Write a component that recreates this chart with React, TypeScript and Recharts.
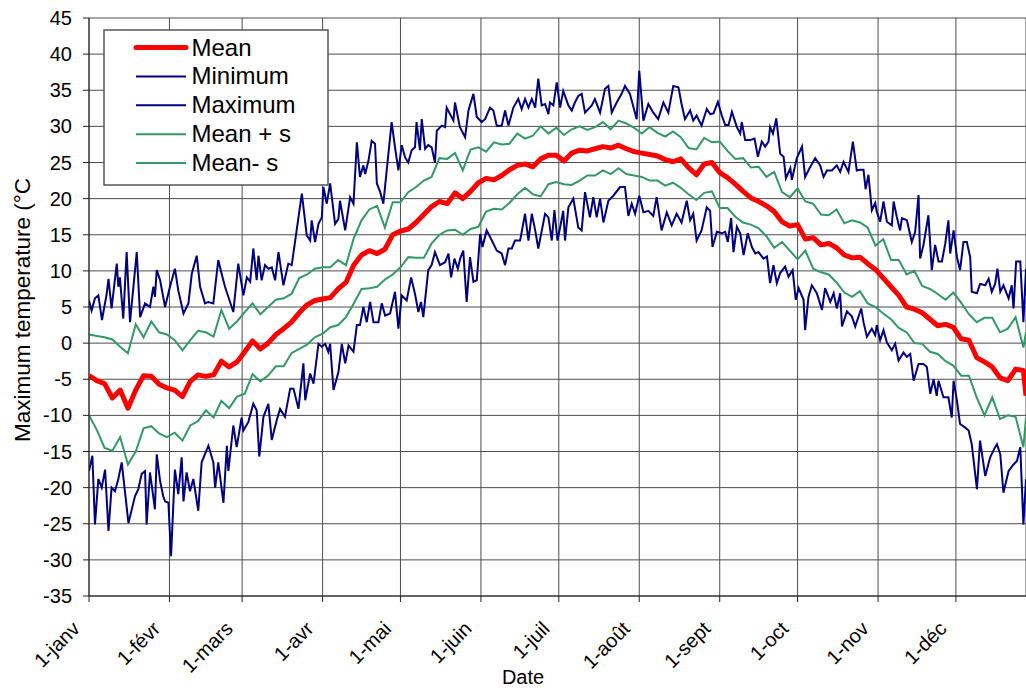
import { LineChart, Line, XAxis, YAxis, CartesianGrid } from "recharts";

// day-of-year positions of the month labels (1 Jan = 0)
const monthDays = [0, 31, 59, 90, 120, 151, 181, 212, 243, 273, 304, 334];
const monthLabels = ["1-janv", "1-févr", "1-mars", "1-avr", "1-mai", "1-juin", "1-juil", "1-août", "1-sept", "1-oct", "1-nov", "1-déc"];
const tempTicks = [-35, -30, -25, -20, -15, -10, -5, 0, 5, 10, 15, 20, 25, 30, 35, 40, 45];

// mean and mean +/- s, read every 3 days (last point = day 361)
const gridDays = [...Array.from({ length: 121 }, (_, i) => i * 3), 361];

const meanTemps = [
  -4.5, -5.2, -5.6, -7.6, -6.5, -9.0, -6.5, -4.5, -4.6, -5.7,
  -6.2, -6.5, -7.4, -5.3, -4.4, -4.6, -4.4, -2.5, -3.3, -2.6,
  -1.2, 0.3, -0.8, 0.0, 1.2, 2.0, 2.9, 4.2, 5.3, 5.9,
  6.1, 6.3, 7.5, 8.4, 10.8, 12.2, 12.8, 12.4, 13.0, 15.0,
  15.5, 15.8, 16.7, 17.8, 18.9, 19.6, 19.3, 20.8, 20.0, 21.0,
  22.2, 22.8, 22.6, 23.2, 24.0, 24.6, 24.8, 24.4, 25.5, 26.0,
  26.0, 25.2, 26.3, 26.7, 26.6, 26.9, 27.2, 27.0, 27.4, 26.9,
  26.5, 26.3, 26.1, 25.9, 25.4, 25.1, 25.5, 24.3, 23.3, 24.8,
  25.0, 23.6, 22.9, 22.0, 21.0, 20.1, 19.6, 19.0, 18.2, 16.8,
  16.2, 16.4, 14.4, 14.6, 13.6, 13.8, 13.2, 12.2, 11.8, 11.9,
  11.0, 10.2, 9.0, 7.8, 6.6, 5.0, 4.7, 4.2, 3.3, 2.4,
  2.6, 2.2, 0.6, 0.4, -2.0, -2.6, -3.3, -4.8, -5.2, -3.6,
  -3.8, -7.3,
];

const plusTemps = [
  1.2, 1.0, 0.8, 0.5, -0.5, -1.4, 2.6, 0.8, 3.0, 1.5,
  1.2, 0.4, -1.0, 0.4, 1.7, 1.5, 0.9, 4.6, 2.0, 3.0,
  4.3, 5.5, 4.0, 5.0, 6.0, 6.2, 6.8, 9.0, 9.5, 10.3,
  10.5, 10.5, 11.5, 10.8, 14.5, 17.0, 18.5, 19.0, 16.0, 19.5,
  19.5, 20.9, 21.6, 22.5, 23.0, 25.6, 25.5, 26.3, 23.9, 26.8,
  27.1, 26.5, 27.8, 27.5, 27.6, 29.0, 28.3, 28.7, 30.0, 29.0,
  29.8, 28.8, 29.6, 30.0, 29.5, 29.9, 30.6, 29.6, 30.8, 30.4,
  29.8, 29.0, 29.9, 29.1, 28.6, 29.3, 28.5, 27.0, 26.8, 28.4,
  27.8, 27.9, 26.6, 25.5, 25.6, 24.3, 24.4, 23.0, 23.7, 20.9,
  20.2, 21.4, 19.6, 19.3, 17.8, 17.7, 18.5, 16.6, 17.0, 16.7,
  16.0, 13.5, 14.4, 11.5, 11.5, 9.5, 10.0, 7.9, 7.5, 6.8,
  6.0, 7.0, 5.6, 4.0, 2.9, 3.5, 3.5, 1.5, 2.0, 3.6,
  -0.6, 1.5,
];

const minusTemps = [
  -10.0, -12.0, -14.5, -14.9, -13.0, -16.8, -15.0, -11.8, -11.5, -12.5,
  -13.0, -12.4, -13.5, -11.4, -10.8, -9.3, -10.3, -8.0, -9.0, -7.4,
  -7.0, -4.3, -5.3, -4.5, -3.2, -3.2, -1.4, -0.8, -0.2, 0.8,
  1.3, 2.2, 2.5, 3.6, 5.5, 7.5, 7.6, 7.8, 8.8, 9.5,
  10.5, 11.9, 11.8, 11.8, 13.8, 15.0, 15.6, 15.7, 15.0, 15.8,
  16.1, 18.2, 18.6, 18.5, 19.4, 20.6, 21.5, 20.6, 20.3, 22.0,
  22.3, 22.0, 21.9, 22.5, 23.2, 23.2, 23.9, 23.4, 24.2, 23.4,
  23.2, 23.0, 22.5, 22.5, 21.8, 22.2, 21.5, 20.6, 19.8, 20.8,
  21.0, 18.7, 18.7, 17.5, 16.7, 16.4, 15.9, 14.8, 13.2, 14.0,
  12.8, 11.6, 12.8, 10.3, 9.8, 9.5, 8.4, 7.0, 6.4, 7.2,
  5.5, 5.0, 4.1, 3.3, 2.1, 1.5, 0.0, -0.1, -1.2, -1.5,
  -2.5, -3.1, -4.5, -4.5, -7.5, -10.0, -7.5, -10.5, -10.0, -10.2,
  -14.4, -10.3,
];

// daily maximum: turning points
const maxDays = [
  0, 1, 2.3, 3.6, 5, 6.8, 7.5, 8.7, 10.7, 11.3, 11.9, 13.2, 14.5, 15.8, 18.4, 19.7, 21.6, 23.5, 24.8, 25.4,
  26.1, 27.4, 29.3, 31.2, 33.1, 34.4, 36.4, 38.3, 39.6, 41.5, 42.8, 44.7, 46, 47.9, 49.8, 51.1, 52.4, 55.6, 57.5, 59.5,
  60.8, 62.1, 63.3, 64.6, 65.3, 66.5, 67.8, 69.1, 70.4, 71.7, 73, 74.9, 76.8, 78.1, 80, 82, 83.9, 85.2, 85.8, 87.1,
  88.4, 89.7, 90.3, 91.6, 92.9, 94.8, 96.1, 96.7, 98.7, 100.6, 101.9, 103.2, 104.4, 105.7, 106.4, 107.7, 108.9, 110.2, 110.9, 112.2,
  113.4, 114.7, 116.6, 117.9, 119.2, 120.5, 121.8, 123, 124.3, 125.6, 126.2, 127.5, 128.2, 129.5, 130.7, 132, 133.3, 134, 135.9, 137.2,
  137.8, 139.1, 140.4, 141, 142.9, 144.9, 146.2, 148.1, 149.4, 151.3, 152.6, 154.5, 155.8, 157.1, 159, 160.3, 161.6, 163.5, 165.4, 166.7,
  168, 169.3, 170.6, 171.9, 173.1, 174.4, 175.7, 177, 177.6, 178.9, 180.2, 181.5, 182.7, 184.7, 186, 187.2, 188.5, 189.8, 191.1, 193.7,
  194.9, 196.9, 198.8, 200.1, 201.4, 203.3, 205.2, 206.5, 208.4, 211, 212, 213.6, 215.5, 217.4, 219.3, 221.3, 223.2, 225.1, 227.1, 228.3,
  229.6, 231.6, 232.8, 234.1, 236, 238, 239.3, 240.6, 242.3, 243.8, 245.1, 246.4, 247.7, 249.6, 250.9, 251.5, 252.8, 254.7, 256.4, 257.7,
  259.2, 260.5, 261.8, 262.4, 263.5, 264.8, 266.3, 267.6, 268.5, 270.2, 270.8, 272.7, 274.7, 275.9, 277.9, 279.8, 281.7, 283, 284.3, 286.2,
  288.1, 289.4, 290.7, 292.6, 294.3, 295.8, 297.1, 298.4, 299.2, 300.3, 301.6, 302.9, 303.5, 304.8, 306.1, 307.4, 309.3, 310, 311.2, 312.5,
  313.2, 315.1, 317, 318.3, 319.6, 320.2, 321.5, 323.4, 324.7, 326, 327.3, 328.6, 329.9, 331.1, 331.8, 333.1, 334.4, 335.6, 336.9, 338.2,
  339.5, 340.1, 342.1, 343.3, 345.3, 346.6, 347.8, 349.1, 350, 351.1, 352.3, 354.3, 355.5, 356.2, 357.2, 358.8, 360, 361,
];
const maxTemps = [
  5.9, 4.5, 6.2, 6.6, 3.2, 6.8, 8.9, 4.8, 11.0, 7.8, 9.1, 3.4, 12.6, 2.9, 12.6, 3.6, 5.5, 5.0, 7.8, 6.4,
  10.1, 8.7, 5.0, 7.8, 10.3, 7.3, 4.1, 5.5, 9.6, 12.1, 7.8, 5.5, 5.7, 5.5, 11.5, 9.6, 7.8, 4.3, 11.0, 6.6,
  9.1, 8.5, 13.1, 8.7, 12.1, 8.7, 10.8, 10.3, 10.5, 8.7, 12.6, 8.0, 11.0, 10.8, 15.6, 20.7, 14.9, 14.2, 17.0, 14.0,
  16.5, 17.4, 21.6, 19.3, 22.1, 16.5, 17.2, 19.7, 15.6, 20.2, 19.3, 27.8, 23.0, 24.6, 23.4, 25.3, 28.0, 27.6, 22.1, 20.9,
  19.3, 23.9, 30.6, 27.1, 23.9, 27.4, 25.7, 25.0, 26.7, 27.1, 30.6, 26.7, 31.0, 26.9, 27.4, 27.1, 25.0, 29.4, 30.1, 29.9,
  32.6, 31.7, 30.8, 33.3, 29.9, 28.5, 32.2, 34.5, 31.3, 30.6, 31.0, 32.6, 32.2, 30.1, 30.1, 32.2, 30.1, 32.6, 33.8, 32.4,
  33.8, 32.6, 33.8, 32.6, 36.6, 32.9, 33.1, 31.7, 33.3, 32.9, 36.1, 32.6, 34.9, 32.9, 32.2, 33.3, 34.2, 34.5, 31.9, 32.9,
  33.8, 31.9, 35.2, 35.6, 31.9, 33.3, 34.5, 35.6, 34.5, 31.0, 37.7, 30.8, 33.1, 31.9, 31.0, 33.3, 31.9, 35.6, 35.4, 33.1,
  31.0, 32.2, 30.8, 31.5, 30.1, 32.4, 31.7, 31.8, 33.4, 31.5, 30.2, 30.2, 32.0, 29.9, 29.0, 30.6, 28.1, 28.1, 28.3, 25.8,
  27.9, 27.2, 27.9, 29.9, 29.0, 31.1, 26.2, 25.8, 22.8, 24.2, 22.6, 25.6, 27.2, 23.0, 24.4, 25.6, 24.6, 23.0, 23.9, 23.9,
  24.6, 23.7, 25.1, 23.7, 27.9, 23.9, 24.0, 24.0, 21.3, 23.3, 18.4, 19.4, 18.2, 16.8, 19.6, 16.8, 16.3, 19.6, 17.5, 15.6,
  17.3, 17.0, 14.0, 15.4, 20.5, 11.7, 13.6, 17.7, 10.1, 13.6, 11.3, 11.3, 13.8, 17.0, 12.4, 15.6, 11.9, 10.1, 14.0, 14.0,
  11.9, 7.1, 6.9, 8.2, 8.0, 8.9, 7.1, 8.2, 10.3, 7.1, 8.0, 6.2, 8.0, 4.8, 11.3, 11.3, 2.9, 10.3,
];

// daily minimum: turning points
const minDays = [
  0, 1.3, 2.3, 3.6, 4.9, 6.2, 7.5, 8.7, 10, 11.3, 12.6, 15.2, 17.7, 19, 20.3, 21.6, 22.2, 23.5, 24.8, 25.4,
  26.1, 27.4, 28.6, 29.3, 30.6, 31.6, 33.1, 34.4, 35.7, 36.4, 37.6, 38.9, 40.2, 42.1, 43.4, 46, 47.9, 48.6, 49.8, 51.8,
  53.1, 53.7, 55.6, 56.9, 58.8, 59.5, 61.4, 63.3, 64.6, 65.6, 67.2, 69.1, 70.4, 72.3, 73.6, 75.5, 77.5, 78.8, 80.7, 82.6,
  83.3, 85.2, 86.5, 88.4, 89.7, 91, 92.2, 92.9, 94.2, 96.1, 97.4, 98.7, 100, 101.9, 103.2, 104.4, 105.7, 107, 108.3, 109.6,
  111.5, 112.8, 114.1, 116, 117.9, 119.2, 120.5, 122.4, 124.1, 125.6, 126.9, 127.9, 128.8, 130.7, 132, 133.3, 135.2, 137.2, 138.5, 139.5,
  140.8, 142.1, 143, 144.2, 145.5, 146.8, 148.1, 149.4, 150.7, 151.6, 153.2, 155.2, 157.1, 159, 160.3, 161.6, 162.9, 164.1, 166.1, 168,
  169.3, 170.6, 171.9, 173.1, 175.7, 177, 178.3, 179.3, 180.5, 181.5, 182.7, 183.4, 184.7, 186.6, 188.5, 189.8, 191.1, 193, 194.3, 195.6,
  196.9, 198.2, 200.1, 202, 204.6, 206.5, 207.8, 209.1, 210.4, 212, 213.6, 215.5, 217.4, 218.7, 220.6, 222.6, 224.5, 226.4, 228.3, 230.3,
  231.6, 232.8, 234.1, 236, 238, 239.3, 240.2, 241.9, 243.8, 245.1, 246.1, 247.4, 248.3, 249.6, 250.9, 252.2, 253.8, 255.4, 256.7, 257.9,
  259.9, 261.2, 262.4, 263.7, 265, 266.3, 268.2, 269.5, 271.1, 272.3, 273.4, 275.3, 275.9, 277.2, 278.5, 280.4, 282.4, 283.6, 285.6, 286.9,
  288.1, 289.4, 290.1, 292, 293.9, 295.2, 297.5, 298.4, 299.7, 301.6, 302.9, 303.5, 304.8, 306.1, 307.4, 309.3, 310.6, 311.9, 313.8, 315.1,
  316.4, 317.7, 319.6, 321.5, 322.8, 324.1, 325.4, 326.6, 327.3, 329.2, 331.1, 332.4, 333.1, 334.4, 335.6, 337.6, 338.9, 340.1, 342.1, 343.3,
  345.3, 347.2, 349.1, 349.8, 351.1, 352.3, 354.3, 356.2, 357.5, 358.8, 360, 361,
];
const minTemps = [
  -17.7, -15.6, -25.1, -18.8, -20.0, -17.5, -26.0, -20.0, -20.5, -18.8, -16.5, -24.9, -21.2, -20.2, -18.1, -17.7, -25.1, -17.9, -21.4, -23.0,
  -15.4, -19.1, -21.2, -21.9, -22.1, -29.5, -17.5, -20.9, -15.8, -21.9, -17.9, -20.5, -18.8, -23.2, -16.5, -14.2, -16.5, -20.0, -16.5, -22.1,
  -14.2, -17.7, -11.4, -14.4, -10.3, -12.1, -10.9, -8.4, -9.3, -15.7, -10.2, -8.4, -13.4, -10.7, -9.1, -10.2, -6.3, -6.3, -9.1, -2.8,
  -7.9, -4.2, -5.6, -0.1, -0.5, -0.1, -1.2, -0.1, -6.5, -4.0, -0.1, -2.8, -0.3, -1.2, 2.5, 2.5, 5.0, 2.9, 5.7, 2.9,
  2.9, 5.5, 3.8, 4.1, 7.1, 2.0, 6.6, 5.9, 9.1, 6.8, 4.3, 5.7, 3.6, 10.1, 10.8, 12.6, 10.8, 11.2, 12.4, 9.1,
  11.7, 10.3, 11.7, 12.8, 5.7, 11.9, 8.5, 8.7, 15.1, 13.3, 15.6, 14.2, 12.8, 12.4, 10.8, 13.1, 13.1, 14.2, 14.2, 17.9,
  14.2, 17.9, 15.6, 13.1, 17.9, 17.4, 14.2, 18.4, 14.2, 16.0, 18.3, 14.2, 18.8, 20.0, 16.0, 15.6, 20.9, 17.4, 20.2, 17.4,
  20.0, 16.7, 19.7, 20.4, 21.6, 21.6, 17.6, 19.3, 17.9, 20.4, 18.1, 18.3, 17.6, 20.2, 15.6, 18.1, 16.3, 17.9, 16.7, 19.7,
  17.0, 17.9, 14.2, 15.6, 18.8, 18.3, 13.3, 15.4, 15.2, 15.4, 14.0, 17.3, 12.6, 16.1, 15.2, 12.2, 15.2, 13.3, 12.4, 12.6,
  11.7, 12.0, 8.3, 10.8, 8.3, 9.7, 10.6, 9.2, 10.1, 6.0, 7.6, 6.0, 1.8, 6.4, 8.0, 6.9, 4.6, 7.6, 5.7, 6.9,
  4.8, 6.9, 2.3, 4.4, 3.7, 2.3, 4.8, 2.9, 0.9, 2.0, 1.1, 2.5, 0.4, 1.8, 0.1, -1.0, -0.1, -2.4, -1.3, -1.9,
  -1.5, -5.2, -2.9, -2.9, -3.3, -7.0, -5.0, -7.3, -5.2, -7.5, -7.5, -10.3, -5.2, -8.0, -11.2, -11.7, -12.1, -14.0, -20.2, -13.5,
  -18.4, -15.8, -14.4, -14.0, -15.4, -20.7, -17.7, -16.8, -16.3, -14.4, -25.1, -18.8,
];

const bandData = gridDays.map((d, i) => ({ d, mean: meanTemps[i], plus: plusTemps[i], minus: minusTemps[i] }));
const maxData = maxDays.map((d, i) => ({ d, v: maxTemps[i] }));
const minData = minDays.map((d, i) => ({ d, v: minTemps[i] }));

const FONT = "'Liberation Sans', Arial, sans-serif";
const RED = "#ff0000";
const NAVY = "#000080";
const GREEN = "#339966";

const legendItems = [
  { name: "Mean", color: RED, width: 5 },
  { name: "Minimum", color: NAVY, width: 2 },
  { name: "Maximum", color: NAVY, width: 2 },
  { name: "Mean + s", color: GREEN, width: 2 },
  { name: "Mean- s", color: GREEN, width: 2 },
];

function MonthTick(props: any) {
  const { x, y, payload } = props;
  const label = monthLabels[monthDays.indexOf(payload.value)];
  return (
    <text
      transform={`translate(${x - 8},${y + 26}) rotate(-45)`}
      textAnchor="end"
      fontSize={20}
      fontFamily={FONT}
      fill="#000"
    >
      {label}
    </text>
  );
}

export default function App() {
  return (
    <div style={{ position: "fixed", left: 0, top: 0, width: 1026, height: 688, background: "#fff" }}>
      <LineChart
        width={1026}
        height={688}
        data={bandData}
        margin={{ top: 18, right: 0, bottom: 0, left: 0 }}
      >
        <CartesianGrid stroke="#4d4d4d" strokeWidth={1} />
        <XAxis
          dataKey="d"
          type="number"
          domain={[0, 361]}
          ticks={monthDays}
          interval={0}
          allowDataOverflow
          height={92}
          tickSize={6}
          tick={<MonthTick />}
          stroke="#222"
        />
        <YAxis
          type="number"
          domain={[-35, 45]}
          ticks={tempTicks}
          interval={0}
          allowDataOverflow
          width={89}
          tickSize={6}
          tickMargin={11}
          stroke="#222"
          tick={{ fontSize: 20, fontFamily: FONT, fill: "#000" }}
        />
        <Line data={minData} dataKey="v" stroke={NAVY} strokeWidth={2} dot={false} isAnimationActive={false} />
        <Line data={maxData} dataKey="v" stroke={NAVY} strokeWidth={2} dot={false} isAnimationActive={false} />
        <Line dataKey="plus" stroke={GREEN} strokeWidth={2} dot={false} isAnimationActive={false} />
        <Line dataKey="minus" stroke={GREEN} strokeWidth={2} dot={false} isAnimationActive={false} />
        <Line dataKey="mean" stroke={RED} strokeWidth={5} strokeLinejoin="round" dot={false} isAnimationActive={false} />
      </LineChart>

      <svg
        width={1026}
        height={688}
        style={{ position: "absolute", left: 0, top: 0, pointerEvents: "none" }}
        fontFamily={FONT}
      >
        <rect x={104} y={30} width={224} height={155} fill="#fff" stroke="#555" strokeWidth={1.5} />
        {legendItems.map((item, i) => {
          const cy = 47.5 + i * 28.9;
          return (
            <g key={item.name}>
              <line x1={136} x2={186} y1={cy} y2={cy} stroke={item.color} strokeWidth={item.width} strokeLinecap={item.width > 3 ? "round" : "butt"} />
              <text x={191.5} y={cy + 8} fontSize={24} fill="#000">{item.name}</text>
            </g>
          );
        })}
        <text transform="translate(29.5,310) rotate(-90)" textAnchor="middle" fontSize={22.5} fill="#000">
          Maximum temperature (°C
        </text>
        <text x={523} y={684} textAnchor="middle" fontSize={20} fill="#000">Date</text>
      </svg>
    </div>
  );
}
